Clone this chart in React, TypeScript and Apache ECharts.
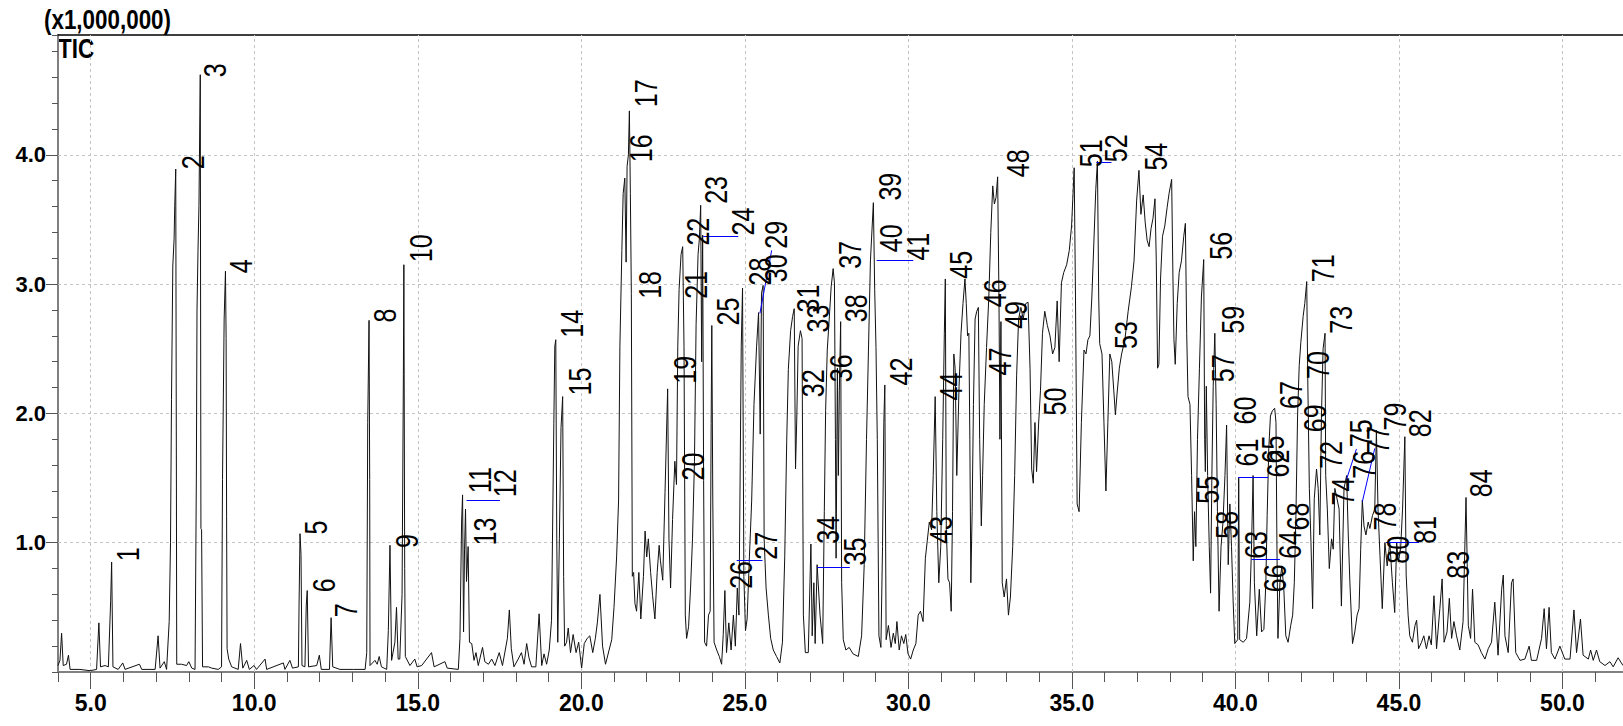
import React, { useEffect, useRef } from "react";
import * as echarts from "echarts";

// ---- axis ticks ----
const xMajorTicks = [5, 10, 15, 20, 25, 30, 35, 40, 45, 50];
const yMajorTicks = [1, 2, 3, 4];

// ---- TIC trace, [retention time (min), intensity (x1,000,000)] ----
const traceEarly: [number, number][] = [
  [4.0, 0.05], [4.06, 0.09], [4.11, 0.3], [4.16, 0.05], [4.26, 0.06], [4.32, 0.13], [4.37, 0.02], [4.67, 0.02],
  [4.98, 0.01], [5.18, 0.02], [5.25, 0.38], [5.3, 0.04], [5.44, 0.05], [5.54, 0.04], [5.61, 0.55], [5.64, 0.85],
  [5.68, 0.04], [5.84, 0.02], [5.98, 0.07], [6.05, 0.02], [6.49, 0.06], [6.56, 0.02], [6.97, 0.02], [7.06, 0.28],
  [7.12, 0.03], [7.25, 0.08], [7.32, 0.02], [7.4, 0.39], [7.44, 1.0], [7.47, 2.11], [7.51, 3.14], [7.55, 3.35],
  [7.57, 3.61], [7.6, 3.89], [7.62, 1.5], [7.63, 0.06], [7.78, 0.06], [7.93, 0.05], [8.0, 0.08], [8.09, 0.03],
  [8.19, 0.02], [8.23, 1.5], [8.25, 2.8], [8.28, 3.25], [8.31, 3.61], [8.35, 4.62], [8.37, 1.11], [8.39, 1.1],
  [8.42, 0.04], [8.6, 0.04], [8.7, 0.03], [8.9, 0.02], [9.0, 0.04], [9.03, 1.49], [9.08, 2.73], [9.12, 3.1],
  [9.14, 2.58], [9.155, 1.2], [9.17, 0.18], [9.22, 0.1], [9.31, 0.04], [9.51, 0.02], [9.58, 0.22], [9.65, 0.03],
  [9.77, 0.09], [9.85, 0.02], [9.99, 0.05], [10.07, 0.02], [10.33, 0.1], [10.38, 0.02], [10.89, 0.07], [10.94, 0.02],
  [11.09, 0.09], [11.17, 0.03], [11.35, 0.04], [11.37, 0.51], [11.4, 1.07], [11.43, 0.91], [11.46, 0.05], [11.55, 0.04],
  [11.59, 0.51], [11.62, 0.63], [11.66, 0.04], [11.91, 0.05], [11.99, 0.13], [12.05, 0.02], [12.3, 0.02], [12.35, 0.42],
  [12.4, 0.04], [12.62, 0.02], [13.03, 0.02], [13.39, 0.02], [13.44, 0.15], [13.47, 1.93], [13.51, 2.72], [13.53, 1.49],
  [13.54, 0.05], [13.69, 0.09], [13.76, 0.06], [13.82, 0.12], [13.89, 0.04], [14.05, 0.02], [14.1, 0.32], [14.15, 0.98],
  [14.2, 0.09], [14.3, 0.23], [14.35, 0.5], [14.4, 0.1], [14.45, 0.1], [14.52, 0.6], [14.56, 2.3], [14.575, 3.15],
  [14.6, 0.8], [14.62, 0.12],
];

const traceMid1: [number, number][] = [
  [14.76, 0.05], [14.91, 0.1], [14.98, 0.04], [15.12, 0.05], [15.42, 0.15], [15.5, 0.04], [15.83, 0.08], [15.9, 0.03],
  [16.24, 0.02], [16.29, 0.26], [16.34, 1.16], [16.37, 1.37], [16.4, 0.31], [16.43, 0.95], [16.46, 1.26], [16.49, 0.7],
  [16.54, 0.97], [16.58, 0.23], [16.65, 0.22], [16.72, 0.09], [16.78, 0.15], [16.85, 0.05], [16.98, 0.19], [17.05, 0.08],
  [17.16, 0.06], [17.26, 0.1], [17.36, 0.05], [17.49, 0.15], [17.59, 0.05], [17.74, 0.26], [17.8, 0.48], [17.86, 0.18],
  [17.94, 0.04], [18.07, 0.1], [18.17, 0.15], [18.25, 0.06], [18.33, 0.22], [18.4, 0.11], [18.48, 0.04], [18.61, 0.04],
  [18.71, 0.45], [18.79, 0.05], [18.86, 0.14], [18.94, 0.06], [19.02, 0.17], [19.09, 0.4], [19.16, 1.92], [19.19, 2.52],
  [19.22, 2.57], [19.25, 1.03], [19.28, 0.23], [19.33, 1.03], [19.38, 1.89], [19.43, 2.13], [19.46, 0.74], [19.49, 0.2],
  [19.55, 0.23], [19.6, 0.34], [19.67, 0.15], [19.75, 0.29], [19.84, 0.15], [19.92, 0.23], [20.01, 0.03], [20.09, 0.22],
  [20.18, 0.26], [20.26, 0.28], [20.35, 0.15], [20.43, 0.26], [20.49, 0.38], [20.57, 0.6], [20.65, 0.2], [20.74, 0.06],
  [20.85, 0.17], [20.93, 0.25],
];

const traceMid2: [number, number][] = [
  [21.0, 0.5], [21.08, 0.89], [21.14, 1.33], [21.18, 2.52], [21.24, 3.26], [21.28, 3.7], [21.33, 3.82], [21.37, 3.17],
  [21.4, 3.91], [21.44, 4.0], [21.47, 4.34], [21.5, 3.7], [21.53, 2.93], [21.56, 0.74], [21.6, 0.77], [21.64, 0.53],
  [21.69, 0.47], [21.76, 0.77], [21.82, 0.41], [21.9, 0.74], [21.95, 1.09], [22.0, 0.89], [22.05, 1.03], [22.12, 0.77],
  [22.18, 0.59], [22.25, 0.41], [22.32, 0.77], [22.38, 0.98], [22.42, 0.86], [22.49, 0.71], [22.56, 1.39], [22.64, 2.19],
  [22.68, 1.03], [22.73, 0.65], [22.79, 1.18], [22.86, 1.63], [22.91, 1.45], [22.95, 2.52], [22.99, 2.96], [23.05, 3.23],
  [23.1, 3.29], [23.14, 2.52], [23.18, 0.44], [23.22, 0.26], [23.28, 0.35], [23.34, 0.65], [23.4, 1.03], [23.46, 1.63],
  [23.51, 2.69], [23.57, 3.23], [23.61, 3.35], [23.65, 3.61], [23.68, 2.4], [23.71, 3.38], [23.74, 1.48], [23.77, 0.23],
  [23.83, 0.2], [23.89, 0.44], [23.94, 0.47], [23.97, 1.92], [23.99, 2.68], [24.02, 1.33], [24.06, 0.23], [24.14, 0.17],
  [24.22, 0.12], [24.29, 0.06], [24.34, 0.29], [24.39, 0.63], [24.44, 0.15], [24.51, 0.38], [24.58, 0.17], [24.65, 0.44],
  [24.71, 0.2], [24.77, 0.65], [24.82, 0.44], [24.86, 1.63], [24.89, 2.52], [24.93, 2.97], [24.97, 0.74], [25.02, 0.32],
  [25.07, 0.41], [25.14, 0.89], [25.21, 1.33], [25.28, 2.07], [25.36, 2.52], [25.42, 2.78], [25.47, 1.84], [25.51, 2.93],
  [25.56, 2.99], [25.59, 1.03], [25.65, 0.65], [25.72, 0.44], [25.79, 0.26], [25.87, 0.17], [25.97, 0.12], [26.07, 0.07],
  [26.15, 0.23], [26.22, 0.89], [26.28, 1.78], [26.33, 2.34], [26.4, 2.64], [26.46, 2.75], [26.51, 2.81], [26.55, 1.57],
  [26.59, 1.98], [26.63, 2.52], [26.7, 2.64], [26.75, 2.58], [26.79, 0.44], [26.85, 0.15], [26.94, 0.15],
];

const traceMid3: [number, number][] = [
  [27.02, 0.99], [27.06, 0.28], [27.11, 0.69], [27.15, 0.22], [27.21, 0.83], [27.3, 0.44], [27.38, 0.22], [27.43, 1.24],
  [27.47, 2.02], [27.52, 2.49], [27.58, 2.73], [27.64, 2.98], [27.7, 3.12], [27.74, 3.01], [27.77, 1.8], [27.79, 0.88],
  [27.83, 2.35], [27.86, 1.52], [27.89, 2.18], [27.93, 2.71], [27.96, 0.69], [28.01, 0.25], [28.09, 0.17], [28.19, 0.19],
  [28.31, 0.14], [28.47, 0.12], [28.57, 0.28], [28.65, 0.83], [28.72, 1.8], [28.78, 2.49], [28.84, 3.18], [28.93, 3.63],
  [28.97, 2.96], [29.01, 2.51], [29.05, 1.8], [29.1, 0.28], [29.16, 0.19], [29.21, 0.97], [29.25, 1.93], [29.28, 2.22],
  [29.32, 0.25], [29.39, 0.36], [29.47, 0.19], [29.54, 0.3], [29.6, 0.22], [29.65, 0.39], [29.72, 0.17], [29.79, 0.28],
  [29.86, 0.22], [29.92, 0.29], [29.99, 0.14], [30.07, 0.1], [30.15, 0.17], [30.23, 0.22], [30.3, 0.44], [30.37, 0.47],
  [30.45, 0.39], [30.52, 0.88], [30.58, 1.02], [30.64, 1.16], [30.71, 1.1], [30.76, 1.52], [30.82, 2.13], [30.87, 1.24],
  [30.93, 0.69], [30.99, 0.97], [31.05, 1.8], [31.1, 2.62], [31.13, 3.04], [31.16, 1.1], [31.21, 0.72], [31.26, 0.69],
  [31.31, 0.47], [31.35, 1.24], [31.39, 2.46], [31.43, 2.35], [31.48, 1.52], [31.55, 2.21], [31.61, 2.62], [31.67, 2.85],
  [31.73, 3.04], [31.77, 2.85], [31.81, 2.6], [31.85, 2.62], [31.88, 1.8], [31.91, 0.69], [31.95, 1.24], [31.99, 2.07],
  [32.04, 2.73], [32.09, 2.79], [32.14, 2.82], [32.18, 1.8], [32.23, 1.13], [32.27, 1.52], [32.32, 2.07], [32.39, 2.51],
  [32.46, 2.9], [32.52, 3.4], [32.58, 3.76], [32.63, 3.62], [32.68, 3.67], [32.73, 3.83], [32.77, 2.9], [32.8, 1.8],
  [32.83, 2.71], [32.87, 0.69], [32.93, 0.58], [33.0, 0.72], [33.06, 0.44], [33.12, 0.58], [33.19, 0.97], [33.25, 1.52],
  [33.31, 2.29], [33.37, 2.73], [33.44, 2.82], [33.51, 2.73], [33.59, 2.85], [33.66, 2.86], [33.72, 2.35], [33.77, 1.57],
  [33.82, 1.46], [33.87, 1.93], [33.92, 1.55], [33.98, 1.91], [34.04, 2.18], [34.1, 2.62], [34.17, 2.79], [34.25, 2.68],
];

const traceLate1: [number, number][] = [
  [34.33, 2.6], [34.41, 2.46], [34.48, 2.51], [34.55, 2.87], [34.61, 2.4], [34.68, 3.01], [34.75, 3.09], [34.84, 3.15],
  [34.92, 3.26], [34.99, 3.45], [35.04, 3.73], [35.07, 3.9], [35.11, 2.9], [35.16, 1.3], [35.22, 1.24], [35.29, 1.93],
  [35.37, 2.49], [35.43, 2.46], [35.49, 2.57], [35.55, 2.6], [35.61, 2.9], [35.67, 3.31], [35.73, 3.73], [35.78, 3.95],
  [35.82, 2.9], [35.85, 2.54], [35.92, 2.46], [35.98, 1.93], [36.04, 1.4], [36.1, 1.93], [36.16, 2.46], [36.22, 2.4],
  [36.28, 2.18], [36.33, 1.99], [36.38, 2.15], [36.45, 2.35], [36.52, 2.46], [36.62, 2.57], [36.72, 2.79], [36.82, 2.98],
  [36.9, 3.18], [36.98, 3.65], [37.05, 3.88], [37.11, 3.54], [37.18, 3.69], [37.24, 3.48], [37.3, 3.34], [37.36, 3.29],
  [37.42, 3.43], [37.48, 3.51], [37.54, 3.66], [37.58, 3.18], [37.62, 2.35], [37.66, 2.38], [37.71, 3.04], [37.77, 3.37],
  [37.84, 3.45], [37.91, 3.59], [37.97, 3.7], [38.05, 3.81], [38.09, 3.04], [38.12, 2.57], [38.16, 2.38], [38.22, 2.85],
  [38.28, 3.09], [38.35, 3.18], [38.42, 3.37], [38.47, 3.47], [38.51, 2.62], [38.55, 2.13], [38.61, 2.07], [38.66, 1.52],
  [38.71, 0.86], [38.75, 1.24], [38.79, 0.97], [38.84, 1.8], [38.9, 2.35], [38.96, 2.9], [39.03, 3.19], [39.06, 1.8],
  [39.08, 1.55], [39.11, 2.21], [39.15, 1.52], [39.2, 0.97], [39.24, 0.61], [39.28, 1.52], [39.32, 2.21], [39.37, 2.62],
  [39.41, 2.07], [39.45, 1.24], [39.5, 0.47], [39.56, 0.97], [39.62, 1.16], [39.68, 1.52], [39.73, 1.91], [39.78, 0.83],
  [39.83, 1.3], [39.88, 0.97], [39.93, 0.55], [39.98, 0.22],
];

const traceLate2: [number, number][] = [
  [40.07, 0.25], [40.1, 1.5], [40.13, 0.25], [40.24, 0.23], [40.34, 0.26], [40.44, 0.54], [40.49, 0.95], [40.54, 1.52],
  [40.58, 0.69], [40.65, 0.28], [40.73, 0.64], [40.8, 0.31], [40.87, 0.33], [40.93, 0.69], [40.97, 1.21], [41.02, 1.73],
  [41.07, 1.98], [41.13, 2.02], [41.2, 2.04], [41.24, 1.93], [41.27, 0.95], [41.3, 0.26], [41.36, 0.69], [41.42, 0.82],
  [41.48, 0.64], [41.54, 0.28], [41.61, 0.23], [41.69, 0.36], [41.75, 0.44], [41.8, 0.69], [41.85, 1.21], [41.9, 1.98],
  [41.95, 2.37], [42.0, 2.55], [42.07, 2.75], [42.12, 2.85], [42.18, 3.02], [42.21, 2.3], [42.26, 1.42], [42.31, 1.0],
  [42.36, 0.49], [42.41, 1.34], [42.48, 1.57], [42.53, 1.42], [42.58, 1.06], [42.63, 1.98], [42.68, 2.5], [42.74, 2.62],
  [42.76, 1.52], [42.81, 1.26], [42.87, 0.8], [42.94, 1.03], [42.99, 0.95], [43.04, 1.42], [43.09, 1.36], [43.17, 1.26],
  [43.24, 0.51], [43.32, 1.42], [43.4, 1.52], [43.45, 1.06], [43.5, 0.69], [43.58, 0.22], [43.65, 0.31], [43.72, 0.44],
  [43.78, 0.49], [43.83, 0.95], [43.88, 1.33], [43.93, 1.13], [43.99, 1.06], [44.06, 1.16], [44.11, 1.11], [44.19, 1.21],
  [44.26, 1.26], [44.31, 1.87], [44.36, 1.26], [44.42, 0.9], [44.49, 0.49], [44.57, 1.0], [44.64, 0.82], [44.72, 1.0],
  [44.8, 0.69], [44.87, 0.46], [44.93, 1.0], [44.98, 0.85], [45.05, 0.95], [45.11, 1.26], [45.18, 1.82], [45.22, 0.75],
  [45.28, 0.44], [45.33, 0.28], [45.41, 0.23], [45.49, 0.36], [45.54, 0.4], [45.6, 0.18], [45.69, 0.23], [45.76, 0.28],
  [45.84, 0.18], [45.92, 0.28], [45.99, 0.21], [46.07, 0.59], [46.15, 0.18], [46.25, 0.49], [46.32, 0.72], [46.38, 0.23],
  [46.47, 0.31], [46.54, 0.57], [46.61, 0.26], [46.68, 0.39], [46.76, 0.28], [46.86, 0.17], [46.96, 0.39], [47.05, 1.35],
  [47.12, 0.36], [47.19, 0.26], [47.25, 0.64], [47.32, 0.23], [47.42, 0.21], [47.52, 0.15], [47.63, 0.1], [47.73, 0.18],
  [47.83, 0.23], [47.93, 0.54], [48.03, 0.13], [48.14, 0.64], [48.19, 0.75], [48.24, 0.28], [48.34, 0.15], [48.44, 0.69],
  [48.49, 0.72], [48.57, 0.15], [48.7, 0.09], [48.85, 0.1], [48.98, 0.2], [49.05, 0.09], [49.21, 0.09], [49.36, 0.26],
  [49.44, 0.49], [49.51, 0.18], [49.59, 0.5], [49.66, 0.15], [49.77, 0.1], [49.92, 0.2], [50.07, 0.1], [50.23, 0.1],
  [50.35, 0.48], [50.43, 0.15], [50.55, 0.41], [50.63, 0.13], [50.79, 0.1], [50.86, 0.17], [50.94, 0.09], [51.04, 0.17],
  [51.14, 0.08], [51.3, 0.05], [51.45, 0.08], [51.55, 0.04], [51.7, 0.11], [51.85, 0.05],
];

// ---- peak annotations ----
const peakIds = [
  1, 2, 3, 4, 5, 6, 7, 8, 9, 10, 11, 12, 13, 14, 15, 16, 17, 18, 19, 20, 21, 22, 23, 24, 25, 26, 27, 28,
  29, 30, 31, 32, 33, 34, 35, 36, 37, 38, 39, 40, 41, 42, 43, 44, 45, 46, 47, 48, 49, 50, 51, 52, 53, 54, 55, 56,
  57, 58, 59, 60, 61, 62, 63, 64, 65, 66, 67, 68, 69, 70, 71, 72, 73, 74, 75, 76, 77, 78, 79, 80, 81, 82, 83, 84,
];
const peakLabelTimes = [
  5.795, 7.782, 8.463, 9.258, 11.551, 11.787, 12.468, 13.639, 14.333, 14.74, 16.544, 17.308, 16.718, 19.368,
  19.607, 21.487, 21.64, 21.741, 22.811, 23.068, 23.169, 23.22, 23.78, 24.596, 24.138, 24.544, 25.308, 25.104,
  25.614, 25.614, 26.593, 26.736, 26.889, 27.195, 28.008, 27.602, 27.855, 28.06, 29.078, 29.13, 29.946, 29.436,
  30.659, 30.964, 31.27, 32.288, 32.441, 33.003, 32.952, 34.123, 35.244, 36.009, 36.314, 37.232, 38.812, 39.197,
  39.27, 39.402, 39.576, 39.931, 40.013, 40.961, 40.289, 41.307, 40.808, 40.849, 41.359, 41.563, 42.092, 42.174,
  42.327, 42.581, 42.887, 42.939, 43.498, 43.581, 44.009, 44.211, 44.517, 44.62, 45.434, 45.281, 46.455, 47.167,
];
const peakLabelHeights = [
  0.861, 3.892, 4.604, 3.088, 1.067, 0.621, 0.428, 2.707, 0.963, 3.173, 1.387, 1.356, 0.982, 2.589,
  2.142, 3.947, 4.372, 2.89, 2.233, 1.485, 2.89, 3.302, 3.625, 3.38, 2.684, 0.647, 0.872, 2.993,
  3.277, 3.019, 2.784, 2.129, 2.63, 0.995, 0.828, 2.245, 3.122, 2.709, 3.65, 3.251, 3.186, 2.22,
  0.995, 2.104, 3.045, 2.825, 2.297, 3.831, 2.658, 1.988, 3.908, 3.947, 2.503, 3.882, 1.305, 3.192,
  2.245, 1.034, 2.62, 1.918, 1.593, 1.508, 0.879, 0.879, 1.616, 0.621, 2.039, 1.098, 1.858, 2.271,
  3.019, 1.575, 2.62, 1.292, 1.742, 1.498, 1.691, 1.098, 1.872, 0.841, 0.995, 1.82, 0.725, 1.356,
];

// ---- blue leader lines between co-eluting peak labels ----
const leaderLines: [number, number][][] = [
  [[16.49, 1.325], [17.51, 1.325]],
  [[23.73, 3.373], [24.8, 3.373]],
  [[25.46, 2.773], [25.82, 3.261]],
  [[24.75, 0.864], [25.54, 0.864]],
  [[27.21, 0.811], [28.21, 0.811]],
  [[29.03, 3.183], [30.15, 3.183]],
  [[35.75, 3.943], [36.21, 3.943]],
  [[40.08, 1.503], [41.0, 1.503]],
  [[40.49, 0.871], [41.36, 0.871]],
  [[43.39, 1.485], [43.7, 1.725]],
  [[43.88, 1.317], [44.26, 1.73]],
  [[44.6, 1.0], [45.62, 1.0]],
];

const X_MIN = 4.0;
const X_MAX = 51.85;
const Y_MIN = 0;
const Y_MAX = 4.927;

const SANS = '"Liberation Sans", Arial, Helvetica, sans-serif';

export default function App() {
  const ref = useRef<HTMLDivElement>(null);

  useEffect(() => {
    document.body.style.margin = "0";
    const chart = echarts.init(ref.current as HTMLDivElement, null, { renderer: "svg" });
    const trace = [...traceEarly, ...traceMid1, ...traceMid2, ...traceMid3, ...traceLate1, ...traceLate2];
    const labelData = peakIds.map((id, i) => [peakLabelTimes[i], peakLabelHeights[i], id]);

    const baseX = { type: "value", min: X_MIN, max: X_MAX, gridIndex: 0 };
    const baseY = { type: "value", min: Y_MIN, max: Y_MAX, gridIndex: 0 };

    chart.setOption({
      animation: false,
      backgroundColor: "#ffffff",
      grid: { left: 58, right: 0, top: 35, bottom: 54, containLabel: false },
      xAxis: [
        {
          ...baseX,
          position: "bottom",
          interval: 1,
          axisLine: { show: true, onZero: false, lineStyle: { color: "#808080", width: 2 } },
          axisTick: { show: true, length: 10, lineStyle: { color: "#555555", width: 1 } },
          axisLabel: {
            show: true,
            customValues: xMajorTicks,
            formatter: (v: number) => v.toFixed(1),
            fontFamily: SANS,
            fontWeight: "bold",
            fontSize: 23,
            color: "#000",
            margin: 19,
          },
          splitLine: { show: false },
        },
        {
          ...baseX,
          position: "bottom",
          interval: 1,
          axisLine: { show: false, onZero: false },
          axisTick: { show: true, length: 17, customValues: xMajorTicks, lineStyle: { color: "#555555", width: 1 } },
          axisLabel: { show: false },
          splitLine: { show: false },
        },
        {
          ...baseX,
          position: "top",
          interval: 1,
          axisLine: { show: true, onZero: false, lineStyle: { color: "#000", width: 1.5 } },
          axisTick: { show: false },
          axisLabel: { show: false },
          splitLine: { show: false },
        },
      ],
      yAxis: [
        {
          ...baseY,
          position: "left",
          interval: 0.2,
          axisLine: { show: true, onZero: false, lineStyle: { color: "#808080", width: 2 } },
          axisTick: { show: true, length: 6, lineStyle: { color: "#555555", width: 1 } },
          axisLabel: { show: false },
          splitLine: { show: false },
        },
        {
          ...baseY,
          position: "left",
          interval: 1,
          axisLine: { show: false, onZero: false },
          axisTick: { show: true, length: 12, customValues: yMajorTicks, lineStyle: { color: "#555555", width: 1 } },
          axisLabel: {
            show: true,
            customValues: yMajorTicks,
            formatter: (v: number) => v.toFixed(1),
            fontFamily: SANS,
            fontWeight: "bold",
            fontSize: 22,
            color: "#000",
            margin: 12,
          },
          splitLine: { show: false },
        },
      ],
      graphic: {
        elements: [
          {
            type: "text",
            x: 44,
            y: 6,
            scaleX: 0.83,
            style: { text: "(x1,000,000)", fontFamily: SANS, fontWeight: "bold", fontSize: 27, fill: "#000" },
          },
          {
            type: "text",
            x: 58,
            y: 35,
            scaleX: 0.83,
            style: { text: "TIC", fontFamily: SANS, fontWeight: "bold", fontSize: 27, fill: "#000" },
          },
        ],
      },
      series: [
        {
          type: "line",
          name: "TIC",
          xAxisIndex: 0,
          yAxisIndex: 0,
          data: trace,
          symbol: "none",
          showSymbol: false,
          lineStyle: { color: "#111111", width: 1 },
          z: 3,
          markLine: {
            z: 1,
            silent: true,
            symbol: ["none", "none"],
            label: { show: false },
            lineStyle: { color: "#c4c4c4", width: 1, type: [3, 3] },
            data: [
              ...xMajorTicks.map((x) => ({ xAxis: x })),
              ...yMajorTicks.map((y) => ({ yAxis: y })),
            ],
          },
        },
        {
          type: "lines",
          coordinateSystem: "cartesian2d",
          xAxisIndex: 0,
          yAxisIndex: 0,
          data: leaderLines.map((c) => ({ coords: c })),
          lineStyle: { color: "#0000ff", width: 1, opacity: 1 },
          z: 4,
        },
        {
          type: "custom",
          xAxisIndex: 0,
          yAxisIndex: 0,
          data: labelData,
          encode: { x: 0, y: 1 },
          z: 5,
          silent: true,
          renderItem: (_params: any, api: any) => {
            const p = api.coord([api.value(0), api.value(1)]);
            return {
              type: "text",
              x: p[0] + 11.5,
              y: p[1] + 0.5,
              rotation: Math.PI / 2,
              scaleX: 0.81,
              style: {
                text: String(api.value(2)),
                fontFamily: SANS,
                fontSize: 31,
                fill: "#000",
                align: "left",
                verticalAlign: "middle",
              },
            };
          },
        },
      ],
    });
    return () => chart.dispose();
  }, []);

  return (
    <div
      ref={ref}
      style={{ position: "absolute", left: 0, top: 0, width: 1623, height: 726, background: "#fff" }}
    />
  );
}
